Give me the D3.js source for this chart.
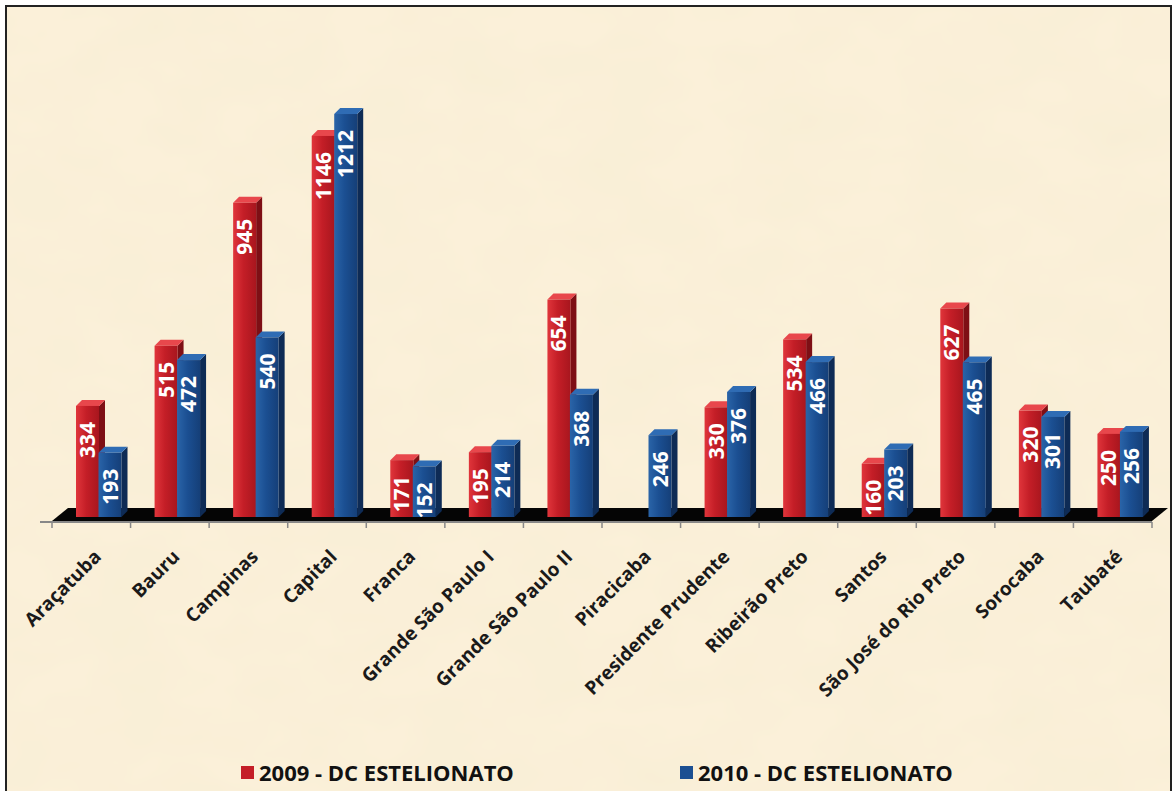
<!DOCTYPE html>
<html>
<head>
<meta charset="utf-8">
<script src="https://cdn.jsdelivr.net/npm/d3@7"></script>
<style>
  body { margin: 0; background: #fff; }
  svg { display: block; }
</style>
</head>
<body>
<div id="chart"></div>
<script>
var regioes = ["Araçatuba", "Bauru", "Campinas", "Capital", "Franca", "Grande São Paulo I",
  "Grande São Paulo II", "Piracicaba", "Presidente Prudente", "Ribeirão Preto", "Santos",
  "São José do Rio Preto", "Sorocaba", "Taubaté"];
var v2009 = [334, 515, 945, 1146, 171, 195, 654, null, 330, 534, 160, 627, 320, 250];
var v2010 = [193, 472, 540, 1212, 152, 214, 368, 246, 376, 466, 203, 465, 301, 256];
var seriesNames = ["2009 - DC ESTELIONATO", "2010 - DC ESTELIONATO"];

var width = 1174, height = 791;
var baseY = 517, dx = 6, dy = -6, barW = 23;

var svg = d3.select("#chart").append("svg")
  .attr("width", width)
  .attr("height", height);

var defs = svg.append("defs");

// parchment texture
var f = defs.append("filter").attr("id", "paper").attr("x", 0).attr("y", 0).attr("width", "100%").attr("height", "100%");
f.append("feTurbulence").attr("type", "fractalNoise").attr("baseFrequency", "0.012 0.02").attr("numOctaves", 3).attr("seed", 4).attr("result", "n");
f.append("feColorMatrix").attr("in", "n").attr("type", "matrix")
  .attr("values", "0 0 0 0 0.93  0 0 0 0 0.85  0 0 0 0 0.66  0 0 0 1 -0.25");

var colors = {
  red: {front: ["#e0353b", "#c41e27", "#a8161e"], top: "#e8474c", side: "#7e0f15"},
  blue: {front: ["#2a64a8", "#1b4f92", "#153f78"], top: "#2f6cb4", side: "#0e2b55"}
};
["red", "blue"].forEach(function(k) {
  var g = defs.append("linearGradient").attr("id", "g-" + k).attr("x1", 0).attr("x2", 1).attr("y1", 0).attr("y2", 0);
  g.append("stop").attr("offset", "0%").attr("stop-color", colors[k].front[0]);
  g.append("stop").attr("offset", "45%").attr("stop-color", colors[k].front[1]);
  g.append("stop").attr("offset", "100%").attr("stop-color", colors[k].front[2]);
});

svg.append("rect").attr("x", 6).attr("y", 6).attr("width", 1165).attr("height", 800)
  .attr("fill", "#fbf0d9");
svg.append("rect").attr("x", 6).attr("y", 6).attr("width", 1165).attr("height", 800)
  .attr("filter", "url(#paper)");
svg.append("rect").attr("x", 6).attr("y", 6).attr("width", 1165).attr("height", 800)
  .attr("fill", "none").attr("stroke", "#222").attr("stroke-width", 2);

var x = d3.scaleBand().domain(regioes).range([52, 1152]).padding(0);
var y = d3.scaleLinear().domain([0, 1400]).range([baseY, baseY - 1400 * 0.3325]);

// grey axis line and ticks
var ax = svg.append("g");
ax.append("line").attr("x1", 40).attr("x2", 1152).attr("y1", 522).attr("y2", 522)
  .attr("stroke", "#888").attr("stroke-width", 2);
ax.selectAll("line.tk").data(regioes.concat([null])).enter().append("line")
  .attr("class", "tk")
  .attr("x1", function(d) { return d ? x(d) : x.range()[1]; })
  .attr("x2", function(d) { return d ? x(d) : x.range()[1]; })
  .attr("y1", 522).attr("y2", 528)
  .attr("stroke", "#888").attr("stroke-width", 1.5);

// black floor
svg.append("polygon")
  .attr("points", [[52, 521], [1152, 521], [1168, 508], [68, 508]].join(" "))
  .attr("fill", "#050505");

var series = [
  {key: "red", vals: v2009, off: 24},
  {key: "blue", vals: v2010, off: 46.5}
];

regioes.forEach(function(r, i) {
  series.forEach(function(s, j) {
    var v = s.vals[i];
    if (v == null) return;
    var x0 = x(r) + s.off, x1 = x0 + barW, yt = y(v);
    var g = svg.append("g");
    g.append("polygon")
      .attr("points", [[x1, yt], [x1 + dx, yt + dy], [x1 + dx, baseY + dy], [x1, baseY]].join(" "))
      .attr("fill", colors[s.key].side);
    g.append("polygon")
      .attr("points", [[x0, yt], [x1, yt], [x1 + dx, yt + dy], [x0 + dx, yt + dy]].join(" "))
      .attr("fill", colors[s.key].top);
    g.append("rect")
      .attr("x", x0).attr("y", yt).attr("width", barW).attr("height", baseY - yt)
      .attr("fill", "url(#g-" + s.key + ")");
    var cid = "c" + i + "_" + j;
    defs.append("clipPath").attr("id", cid).append("rect")
      .attr("x", x0).attr("y", yt).attr("width", barW).attr("height", baseY - yt);
    g.append("g").attr("clip-path", "url(#" + cid + ")")
      .append("text")
      .attr("transform", "translate(" + (x0 + barW / 2 + 7.5) + "," + (yt + 16) + ") rotate(-90)")
      .attr("text-anchor", "end")
      .attr("font-family", "Open Sans")
      .attr("font-weight", "bold")
      .attr("font-size", 21)
      .attr("fill", "#fff")
      .text(v);
  });
});

// category labels
var xAxis = d3.axisBottom(x).tickSize(0).tickPadding(0);
var gx = svg.append("g").call(xAxis);
gx.select(".domain").remove();
gx.selectAll(".tick text")
  .attr("transform", "translate(11,558) rotate(-45)")
  .attr("y", 0).attr("dy", 0)
  .attr("text-anchor", "end")
  .attr("font-family", "Open Sans")
  .attr("font-weight", "bold")
  .attr("font-size", 19)
  .attr("fill", "#1a1a1a");

// legend
var lg = svg.append("g");
var lx = [241, 680];
seriesNames.forEach(function(n, i) {
  lg.append("rect").attr("x", lx[i]).attr("y", 766).attr("width", 13).attr("height", 13)
    .attr("fill", colors[i ? "blue" : "red"].front[1]);
  lg.append("text").attr("x", lx[i] + 18).attr("y", 781)
    .attr("font-family", "Open Sans").attr("font-weight", "bold").attr("font-size", 22)
    .attr("fill", "#111").text(n);
});
</script>
</body>
</html>
